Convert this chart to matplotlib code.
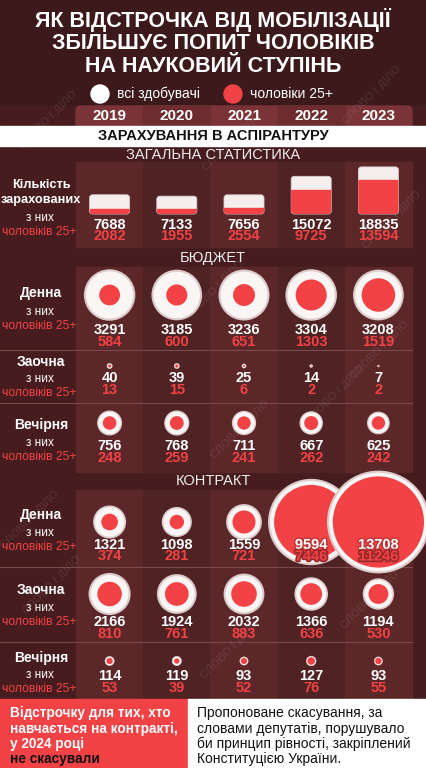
import matplotlib
matplotlib.use("Agg")
import matplotlib.pyplot as plt
from matplotlib.patches import Circle, Rectangle, FancyBboxPatch
import matplotlib.patheffects as pe

plt.rcParams['font.family'] = ['Liberation Sans', 'DejaVu Sans']

# data
years = ['2019', '2020', '2021', '2022', '2023']
total_all = [7688, 7133, 7656, 15072, 18835]
total_men = [2082, 1955, 2554, 9725, 13594]
budget_day_all = [3291, 3185, 3236, 3304, 3208]
budget_day_men = [584, 600, 651, 1303, 1519]
budget_part_all = [40, 39, 25, 14, 7]
budget_part_men = [13, 15, 6, 2, 2]
budget_eve_all = [756, 768, 711, 667, 625]
budget_eve_men = [248, 259, 241, 262, 242]
contract_day_all = [1321, 1098, 1559, 9594, 13708]
contract_day_men = [374, 281, 721, 7446, 11246]
contract_part_all = [2166, 1924, 2032, 1366, 1194]
contract_part_men = [810, 761, 883, 636, 530]
contract_eve_all = [114, 119, 93, 127, 93]
contract_eve_men = [53, 39, 52, 76, 55]

RED = '#f24245'
BG = '#461c1e'
COL_LIGHT = '#5c2729'
COL_DARK = '#4f2224'
WHITE = '#ffffff'

fig = plt.figure(figsize=(4.26, 7.68), dpi=100)
fig.patch.set_facecolor(BG)
ax = fig.add_axes([0, 0, 1, 1])
ax.set_xlim(0, 426)
ax.set_ylim(768, 0)
ax.set_aspect('equal')
ax.axis('off')

col_x0 = 76
col_w = 67.2
centers = [col_x0 + col_w * (i + 0.5) for i in range(5)]

# background pieces
ax.add_patch(Rectangle((0, 0), 426, 106, color='#3c1a1c', zorder=0))
ax.add_patch(Rectangle((0, 106), 426, 600, color=BG, zorder=0))
for y0, y1 in [(162, 247), (267, 472), (490, 698)]:
    for i in range(5):
        c = COL_LIGHT if i % 2 == 0 else COL_DARK
        ax.add_patch(Rectangle((col_x0 + col_w * i, y0), col_w, y1 - y0, color=c, zorder=0.5))

# year header
hdr = FancyBboxPatch((col_x0, 106), col_w * 5, 26, boxstyle='round,pad=0,rounding_size=5',
                     color='#7a3337', zorder=1)
ax.add_patch(hdr)
for i in range(5):
    if i % 2 == 1:
        r = Rectangle((col_x0 + col_w * i, 106), col_w, 26, color='#6d2c30', zorder=1.1)
        r.set_clip_path(hdr)
        ax.add_patch(r)
    ax.text(centers[i], 116.5, years[i], color=WHITE, fontsize=11, fontweight='bold',
            ha='center', va='center', zorder=3)

ax.add_patch(Rectangle((0, 126), 426, 20, color=WHITE, zorder=2))
ax.text(213, 136.5, 'ЗАРАХУВАННЯ В АСПІРАНТУРУ', color='#111111', fontsize=10.5,
        fontweight='bold', ha='center', va='center', zorder=3)

# title
for y, line in zip([20.5, 43.5, 66.5], ['ЯК ВІДСТРОЧКА ВІД МОБІЛІЗАЦІЇ',
                                        'ЗБІЛЬШУЄ ПОПИТ ЧОЛОВІКІВ',
                                        'НА НАУКОВИЙ СТУПІНЬ']):
    ax.text(213, y, line, color=WHITE, fontsize=15.5, fontweight='bold',
            ha='center', va='center', zorder=3)

# legend
ax.add_patch(Circle((100, 94), 9, color=WHITE, zorder=3))
ax.text(117, 94, 'всі здобувачі', color=WHITE, fontsize=10, ha='left', va='center', zorder=3)
ax.add_patch(Circle((233, 94), 9, color=RED, zorder=3))
ax.text(250, 94, 'чоловіки 25+', color=WHITE, fontsize=10, ha='left', va='center', zorder=3)

# section labels
for y, lab in [(155, 'ЗАГАЛЬНА СТАТИСТИКА'), (258, 'БЮДЖЕТ'), (481, 'КОНТРАКТ')]:
    ax.text(213, y, lab, color='#eeeeee', fontsize=10.5, ha='center', va='center', zorder=3)

# watermarks
for wx, wy in [(48, 120), (372, 95), (232, 142), (215, 290), (392, 220), (335, 395),
               (240, 430), (52, 585), (230, 650), (370, 600), (30, 520), (380, 350)]:
    ax.text(wx, wy, 'СЛОВО І ДІЛО', color='#ffffff', alpha=0.08, fontsize=8,
            fontweight='bold', rotation=45, ha='center', va='center', zorder=2.5)


def left_label(title_lines, title_y, sub_y, fs=10):
    for k, t in enumerate(title_lines):
        ax.text(41, title_y + k * 15, t, color=WHITE, fontsize=fs, fontweight='bold',
                ha='center', va='center', zorder=4)
    ax.text(40, sub_y, 'з них', color=WHITE, fontsize=8.5, ha='center', va='center', zorder=4)
    ax.text(39, sub_y + 14, 'чоловіків 25+', color=RED, fontsize=8.7, ha='center',
            va='center', zorder=4)


def numbers(all_v, men_v, y, shadow_idx=()):
    for i in range(5):
        eff_w = [pe.withStroke(linewidth=2, foreground='#c03538')] if i in shadow_idx else None
        eff_r = [pe.withStroke(linewidth=2.5, foreground='#9a2a2c')] if i in shadow_idx else None
        ax.text(centers[i], y, str(all_v[i]), color=WHITE, fontsize=10.5, fontweight='bold',
                ha='center', va='center', zorder=6, path_effects=eff_w)
        ax.text(centers[i], y + 11.5, str(men_v[i]), color=RED, fontsize=10.5,
                fontweight='bold', ha='center', va='center', zorder=6, path_effects=eff_r)


# general stats bars
bar_scale = 0.0025
bar_bottom = 214
left_label(['Кількість', 'зарахованих'], 185, 218, fs=9.2)
for i in range(5):
    h = total_all[i] * bar_scale
    hm = total_men[i] * bar_scale
    wb = FancyBboxPatch((centers[i] - 20, bar_bottom - h), 40, h,
                        boxstyle='round,pad=0,rounding_size=3', fc='#f4eeee',
                        ec='#d9cfcf', lw=0.6, zorder=3)
    ax.add_patch(wb)
    rb = Rectangle((centers[i] - 20, bar_bottom - hm), 40, hm, color=RED, zorder=3.2)
    rb.set_clip_path(wb)
    ax.add_patch(rb)
numbers(total_all, total_men, 225)

# circle rows
k = 0.43
rows = [
    ('Денна', budget_day_all, budget_day_men, 295, 330, 293, 312),
    ('Заочна', budget_part_all, budget_part_men, 366, 378, 362, 379),
    ('Вечірня', budget_eve_all, budget_eve_men, 423, 446, 425, 443),
    ('Денна', contract_day_all, contract_day_men, 522, 545, 515, 533),
    ('Заочна', contract_part_all, contract_part_men, 594, 622, 590, 608),
    ('Вечірня', contract_eve_all, contract_eve_men, 661, 676, 658, 675),
]
for lab, a, m, cy, ny, ty, sy in rows:
    left_label([lab], ty, sy)
    for i in range(5):
        ra = k * a[i] ** 0.5
        rm = k * m[i] ** 0.5
        z = 5 + i * 0.1
        ax.add_patch(Circle((centers[i], cy), ra, fc='#fbf6f6', ec='#dccbcb',
                            lw=min(1.5, ra * 0.08), zorder=z))
        ax.add_patch(Circle((centers[i], cy), rm, fc=RED, ec='none', zorder=z + 0.02))
    big = [i for i in range(5) if k * a[i] ** 0.5 > 35]
    numbers(a, m, ny, shadow_idx=big)

# row separators
for y in [350, 403, 567, 642]:
    ax.plot([0, 412], [y, y], color='#7b4a4c', lw=0.8, zorder=2)

# bottom panels
ax.add_patch(Rectangle((0, 699), 188, 69, color=RED, zorder=7))
ax.add_patch(Rectangle((188, 699), 238, 69, color=WHITE, zorder=7))
left_lines = ['Відстрочку для тих, хто', 'навчається на контракті,', 'у 2024 році', 'не скасували']
right_lines = ['Пропоноване скасування, за', 'словами депутатів, порушувало',
               'би принцип рівності, закріплений', 'Конституцією України.']
for j in range(4):
    y = 713 + j * 15.5
    ax.text(10, y, left_lines[j], color=WHITE if j < 3 else '#111111', fontsize=9.8,
            fontweight='bold', ha='left', va='center', zorder=8)
    ax.text(197, y, right_lines[j], color='#111111', fontsize=10, ha='left',
            va='center', zorder=8)

fig.savefig('out.png', dpi=100, facecolor=fig.get_facecolor())
